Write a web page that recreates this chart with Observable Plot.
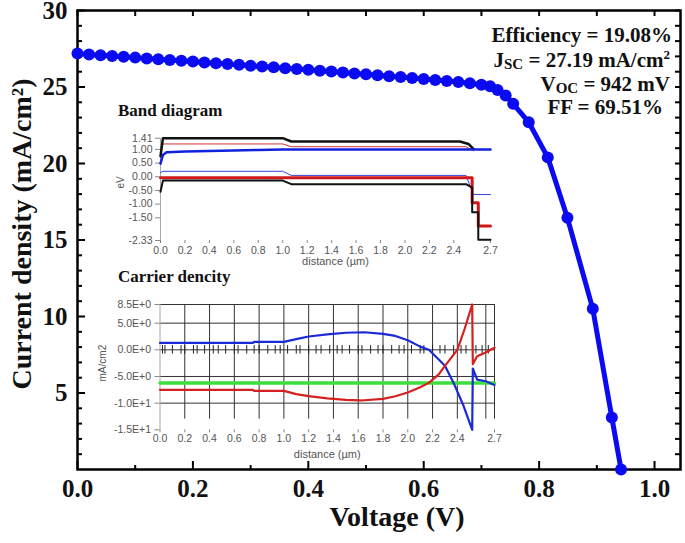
<!DOCTYPE html>
<html><head><meta charset="utf-8">
<script src="https://cdn.jsdelivr.net/npm/d3@7"></script>
<script src="https://cdn.jsdelivr.net/npm/@observablehq/plot@0.6"></script>
<style>
body{margin:0;background:#fff;}
#wrap{position:relative;width:685px;height:543px;overflow:hidden;background:#fff;}
#wrap svg{position:absolute;left:0;top:0;}
.ann{position:absolute;font-family:"Liberation Serif","Times New Roman",serif;font-weight:bold;color:#111;white-space:nowrap;line-height:24px;font-size:21px;}
.ttl{position:absolute;font-family:"Liberation Serif","Times New Roman",serif;font-weight:bold;color:#111;white-space:nowrap;line-height:20px;font-size:17px;}
.sm{font-size:15px;vertical-align:-2px;line-height:0;}
.sp{font-size:13px;vertical-align:8px;line-height:0;}
</style></head><body><div id="wrap"></div>
<script>
// ---- main J-V curve ----
const voltage = [0,0.02,0.04,0.06,0.08,0.10,0.12,0.14,0.16,0.18,0.20,0.22,0.24,0.26,0.28,0.30,0.32,0.34,0.36,0.38,0.40,0.42,0.44,0.46,0.48,0.50,0.52,0.54,0.56,0.58,0.60,0.62,0.64,0.66,0.68,0.70,
  0.715,0.728,0.742,0.755,0.782,0.815,0.849,0.893,0.926,0.942];
const current = [27.19,27.13,27.08,27.03,26.97,26.92,26.87,26.81,26.76,26.71,26.66,26.60,26.55,26.50,26.45,26.39,26.34,26.29,26.23,26.18,26.12,26.06,26.01,25.95,25.89,25.83,25.77,25.71,25.65,25.59,25.52,25.46,25.39,25.32,25.24,25.15,
  25.05,24.8,24.45,23.9,22.7,20.4,16.45,10.5,3.4,0.0];
const xTickLabels = [0,0.2,0.4,0.6,0.8,1.0];
const xMinorTicks = [0.1,0.3,0.5,0.7,0.9];
const yTickLabels = [5,10,15,20,25,30];
const yMinorTicks = [1,2,3,4,6,7,8,9,11,12,13,14,16,17,18,19,21,22,23,24,26,27,28,29];
const annotations = ["Efficiency = 19.08%","27.19 mA/cm","942 mV","FF = 69.51%"];

// ---- band diagram inset (eV vs distance µm) ----
const distTicks = [0,0.2,0.4,0.6,0.8,1.0,1.2,1.4,1.6,1.8,2.0,2.2,2.4,2.7];
const bandYTicks = [1.41,1.00,0.50,0.00,-0.50,-1.00,-1.50,-2.33];
const bandBlackTop = [[0,0.75],[0.02,1.41],[1.0,1.41],[1.07,1.29],[2.45,1.29],[2.52,1.2],[2.56,1.02]];
const bandRedThin = [[0,0.9],[0.02,1.2],[1.0,1.2],[1.07,1.1],[2.5,1.1],[2.56,0.95]];
const bandBlueThick = [[0,0.48],[0.02,0.8],[0.05,0.9],[0.2,0.92],[0.5,0.95],[0.8,0.98],[1.0,1.0],[2.7,1.0]];
const bandBlueThin = [[0,0.15],[0.02,0.2],[1.0,0.2],[1.07,0.05],[2.5,0.05],[2.56,-0.65],[2.7,-0.65]];
const bandRedThick = [[0,-0.04],[2.55,-0.04],[2.55,-0.95],[2.6,-0.95],[2.6,-1.8],[2.7,-1.8]];
const bandBlackBottom = [[0,-0.55],[0.02,-0.14],[1.0,-0.14],[1.07,-0.27],[2.5,-0.27],[2.55,-0.4],[2.55,-1.3],[2.6,-1.3],[2.6,-2.3],[2.7,-2.3]];

// ---- carrier density inset (mA/cm2 vs distance µm) ----
const carrierYTicks = [8.5,5,0,-5,-10,-15];
const carrierYLabels = ["8.5E+0","5.0E+0","0.0E+0","-5.0E+0","-1.0E+1","-1.5E+1"];
const carrierGridX = [0.2,0.4,0.6,0.8,1.0,1.2,1.4,1.6,1.8,2.0,2.2,2.4,2.63,2.7];
const carrierGridY = [8.5,5,0,-5,-10];
const meshMarks = [0.02,0.04,0.1,0.17,0.2,0.27,0.3,0.36,0.43,0.47,0.53,0.6,0.63,0.7,0.76,0.8,0.87,0.93,0.97,1.03,1.1,1.13,1.2,1.26,1.3,1.37,1.43,1.47,1.53,1.6,1.63,1.7,1.76,1.8,1.87,1.93,1.97,2.03,2.1,2.13,2.2,2.26,2.3,2.37,2.43,2.47,2.55,2.6,2.65];
const carrierGreen = [[0,-6.2],[2.7,-6.2]];
const carrierBlue = [[0,1.3],[0.75,1.3],[0.76,1.5],[1.0,1.5],[1.1,2.0],[1.2,2.5],[1.35,2.9],[1.5,3.2],[1.65,3.3],[1.8,3.0],[1.9,2.6],[2.0,1.8],[2.1,0.6],[2.17,0],[2.25,-1.8],[2.3,-3.0],[2.37,-6.2],[2.45,-10.5],[2.52,-15],[2.525,-3.5],[2.56,-5.6],[2.63,-5.9],[2.7,-6.6]];
const carrierRed = [[0,-7.5],[0.75,-7.5],[0.76,-7.7],[1.0,-7.7],[1.1,-8.3],[1.2,-8.7],[1.35,-9.1],[1.5,-9.4],[1.62,-9.5],[1.8,-9.2],[1.9,-8.7],[2.0,-8.0],[2.1,-7.0],[2.17,-6.2],[2.25,-4.6],[2.3,-3.0],[2.4,0],[2.46,4],[2.52,8.5],[2.525,-2.7],[2.56,-1.2],[2.62,-0.6],[2.7,0.4]];

const W = 685, H = 543;
const mL = 77, mR = 5, mT = 10, mB = 74;
const pw = W - mL - mR, ph = H - mT - mB;
const BLUE = "#0b0bf2";
const jv = voltage.map((v, i) => ({v, j: current[i]}));
const wrap = document.getElementById("wrap");

const main = Plot.plot({
  width: W, height: H, marginLeft: mL, marginRight: mR, marginTop: mT, marginBottom: mB,
  style: {background: "transparent", fontFamily: "'Liberation Serif', 'Times New Roman', serif", color: "#111", overflow: "visible"},
  x: {domain: [0, 1.045]},
  y: {domain: [0, 30]},
  marks: [
    Plot.tickX(xMinorTicks, {x: d => d, insetTop: ph - 4, stroke: "#000", strokeWidth: 2}),
    Plot.tickX(xTickLabels, {x: d => d, insetTop: ph - 8, stroke: "#000", strokeWidth: 2}),
    Plot.tickX(xMinorTicks.concat(xTickLabels), {x: d => d, insetBottom: ph - 6, stroke: "#000", strokeWidth: 2}),
    Plot.tickY(yMinorTicks, {y: d => d, insetRight: pw - 5, stroke: "#000", strokeWidth: 2}),
    Plot.tickY(yTickLabels, {y: d => d, insetRight: pw - 8, stroke: "#000", strokeWidth: 2}),
    Plot.tickY(yMinorTicks.concat(yTickLabels), {y: d => d, insetLeft: pw - 5, stroke: "#000", strokeWidth: 2}),
    Plot.frame({stroke: "#000", strokeWidth: 2.5}),
    Plot.line(jv, {x: "v", y: "j", stroke: BLUE, strokeWidth: 5}),
    Plot.dot(jv, {x: "v", y: "j", r: 6, fill: BLUE}),
    Plot.axisX({ticks: xTickLabels, tickSize: 0, tickPadding: 10, tickFormat: d => d.toFixed(1), fontSize: 25, fontWeight: "bold", label: null}),
    Plot.axisY({ticks: yTickLabels, tickSize: 0, tickPadding: 10, fontSize: 25, fontWeight: "bold", label: null}),
    Plot.text(["Voltage (V)"], {frameAnchor: "bottom", textAnchor: "middle", dx: 18, dy: 56, fontSize: 28, fontWeight: "bold"}),
    Plot.text(["Current density (mA/cm²)"], {frameAnchor: "left", textAnchor: "middle", rotate: -90, dx: -55, dy: -6, fontSize: 28, fontWeight: "bold"})
  ]
});
wrap.appendChild(main);

const insetStyle = {background: "transparent", fontFamily: "'Liberation Sans', Arial, sans-serif", color: "#555", overflow: "visible"};
const line = (data, stroke, w) => Plot.line(data, {x: d => d[0], y: d => d[1], stroke, strokeWidth: w});

const band = Plot.plot({
  width: W, height: H, marginLeft: 160, marginRight: 195, marginTop: 137.7, marginBottom: 303,
  style: insetStyle,
  x: {domain: [0, 2.7]},
  y: {domain: [-2.33, 1.41]},
  marks: [
    Plot.ruleX([0], {stroke: "#aaa"}),
    Plot.axisY({ticks: bandYTicks, tickFormat: d => d.toFixed(2), tickSize: 5, tickPadding: 3, fontSize: 10.5, label: null, stroke: "#888"}),
    Plot.axisX({ticks: distTicks, tickFormat: d => d.toFixed(1), tickSize: 3, tickPadding: 3, fontSize: 10.5, label: null, stroke: "#888"}),
    line(bandRedThin, "#d03030", 1),
    line(bandBlueThin, "#3344dd", 1),
    line(bandBlackTop, "#111", 2.5),
    line(bandBlueThick, "#1122dd", 2.5),
    line(bandRedThick, "#d01818", 3),
    line(bandBlackBottom, "#111", 2),
    Plot.text(["eV"], {frameAnchor: "left", textAnchor: "middle", rotate: -90, dx: -40, dy: -7, fontSize: 10, fill: "#555"}),
    Plot.text(["distance (µm)"], {frameAnchor: "bottom", textAnchor: "middle", dx: 10, dy: 24, fontSize: 11, fill: "#555"})
  ]
});
wrap.appendChild(band);

const carrier = Plot.plot({
  width: W, height: H, marginLeft: 159.5, marginRight: 191, marginTop: 304, marginBottom: 113.7,
  style: insetStyle,
  x: {domain: [0, 2.7]},
  y: {domain: [-15, 8.5]},
  marks: [
    Plot.ruleX(carrierGridX, {x: d => d, y1: -13, y2: 8.5, stroke: "#333", strokeWidth: 1}),
    Plot.ruleY(carrierGridY, {y: d => d, x1: 0, x2: 2.7, stroke: "#333", strokeWidth: 1}),
    Plot.ruleX([0], {stroke: "#aaa"}),
    Plot.ruleX(meshMarks, {x: d => d, y1: -0.8, y2: 0.8, stroke: "#222", strokeWidth: 1}),
    Plot.axisY({ticks: carrierYTicks, tickFormat: d => carrierYLabels[carrierYTicks.indexOf(d)], tickSize: 5, tickPadding: 4, fontSize: 10.5, label: null, stroke: "#888"}),
    Plot.axisX({ticks: distTicks, tickFormat: d => d.toFixed(1), tickSize: 3, tickPadding: 2, fontSize: 10.5, label: null, stroke: "#888"}),
    line(carrierGreen, "#3ede3e", 3.5),
    line(carrierBlue, "#1a2ad6", 2.2),
    line(carrierRed, "#d42020", 2.2),
    Plot.text(["mA/cm2"], {frameAnchor: "left", textAnchor: "middle", rotate: -90, dx: -57, dy: -4, fontSize: 10, fill: "#555"}),
    Plot.text(["distance (µm)"], {frameAnchor: "bottom", textAnchor: "middle", dy: 28, fontSize: 11, fill: "#555"})
  ]
});
wrap.appendChild(carrier);

// ---- HTML text overlays ----
function addDiv(cls, html, css) {
  const d = document.createElement("div");
  d.className = cls; d.innerHTML = html;
  Object.assign(d.style, css);
  wrap.appendChild(d);
}
addDiv("ann", annotations[0], {right: "13px", top: "23px"});
addDiv("ann", 'J<span class="sm">SC</span> = ' + annotations[1] + '<span class="sp">2</span>', {right: "15px", top: "48px"});
addDiv("ann", 'V<span class="sm">OC</span> = ' + annotations[2], {right: "15px", top: "72px"});
addDiv("ann", annotations[3], {right: "22px", top: "95px"});
addDiv("ttl", "Band diagram", {left: "118px", top: "101px"});
addDiv("ttl", "Carrier dencity", {left: "118px", top: "267px"});
</script>
</body></html>
